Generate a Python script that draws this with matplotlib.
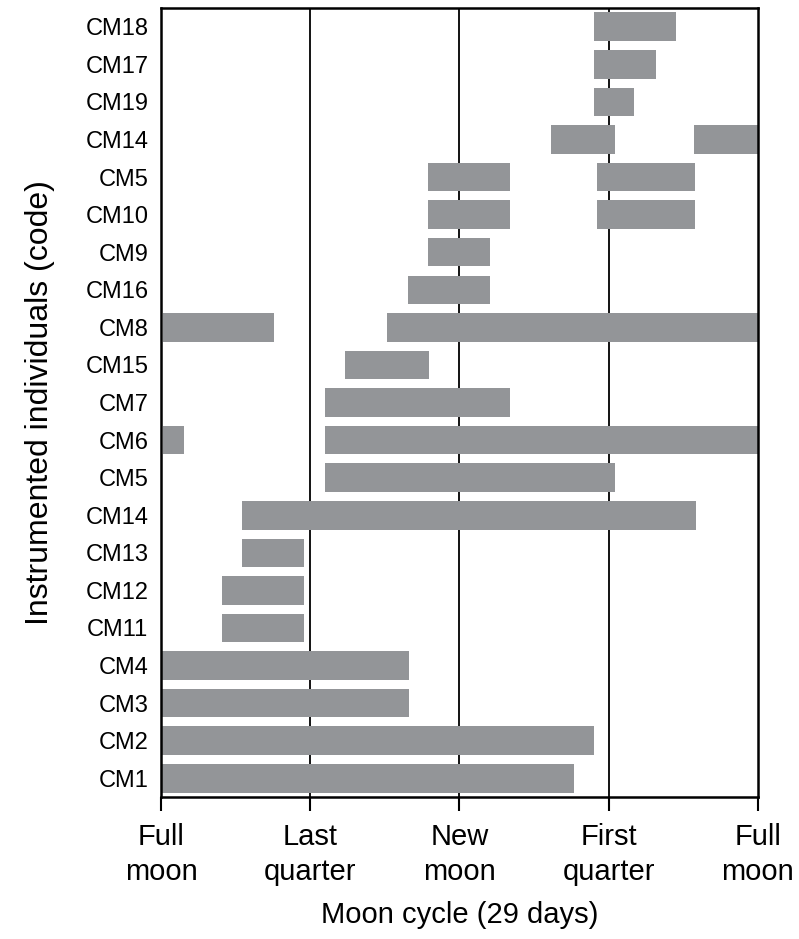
import matplotlib
matplotlib.use("Agg")
from matplotlib import pyplot as plt

plt.rcParams['font.family'] = ['Liberation Sans', 'DejaVu Sans']

# rows from bottom to top
codes = ["CM1", "CM2", "CM3", "CM4", "CM11", "CM12", "CM13", "CM14", "CM5", "CM6",
         "CM7", "CM15", "CM8", "CM16", "CM9", "CM10", "CM5", "CM14", "CM19", "CM17", "CM18"]

# tracking periods (start day, end day) for each row
periods = [
    [(0.0, 20.05)],
    [(0.0, 21.05)],
    [(0.0, 12.05)],
    [(0.0, 12.05)],
    [(2.95, 6.95)],
    [(2.95, 6.95)],
    [(3.95, 6.95)],
    [(3.95, 26.0)],
    [(7.95, 22.05)],
    [(0.1, 1.1), (7.95, 29.0)],
    [(7.95, 16.95)],
    [(8.95, 13.0)],
    [(0.1, 5.5), (11.0, 29.0)],
    [(12.0, 16.0)],
    [(12.95, 16.0)],
    [(12.95, 16.95), (21.2, 25.95)],
    [(12.95, 16.95), (21.2, 25.95)],
    [(18.95, 22.05), (25.9, 29.0)],
    [(21.05, 23.0)],
    [(21.05, 24.05)],
    [(21.05, 25.0)],
]

phase_days = [0, 7.25, 14.5, 21.75, 29]
phase_labels = ["Full\nmoon", "Last\nquarter", "New\nmoon", "First\nquarter", "Full\nmoon"]

fig = plt.figure(figsize=(7.99, 9.39), dpi=100)
ax = fig.add_axes([0.2015, 0.1512, 0.747, 0.8403])

for d in phase_days[1:-1]:
    ax.axvline(d, color="black", linewidth=1.3, zorder=1)

for i, segs in enumerate(periods):
    ax.broken_barh([(a, b - a) for a, b in segs], (i - 0.38, 0.76),
                   facecolors="#939598", edgecolor="none", zorder=2)

ax.set_xlim(0, 29)
ax.set_ylim(-0.5, len(codes) - 0.5)
ax.set_yticks(range(len(codes)))
ax.set_yticklabels(codes, fontsize=17)
ax.tick_params(axis="y", length=0, pad=9)
ax.set_xticks(phase_days)
ax.set_xticklabels(phase_labels, fontsize=21, linespacing=1.28)
ax.tick_params(axis="x", direction="out", length=10, width=1.5, pad=9)

for s in ax.spines.values():
    s.set_linewidth(1.8)

ax.set_xlabel("Moon cycle (29 days)", fontsize=21, labelpad=11)
ax.set_ylabel("Instrumented individuals (code)", fontsize=23, labelpad=22)

fig.savefig("out.png", dpi=100)
